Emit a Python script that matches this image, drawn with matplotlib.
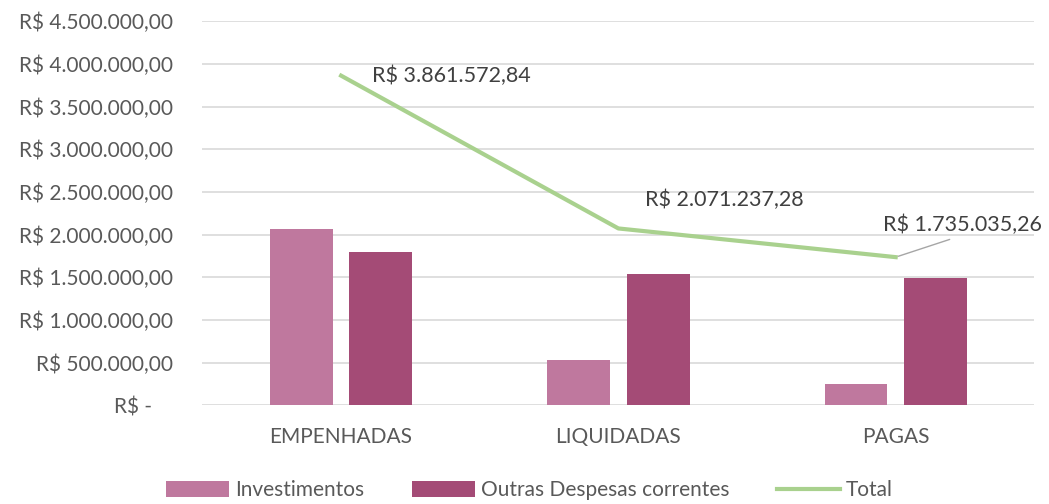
import matplotlib
matplotlib.use("Agg")
from matplotlib import pyplot as plt
import numpy as np

plt.rcParams['font.family'] = ['Lato', 'DejaVu Sans']

categorias = ["EMPENHADAS", "LIQUIDADAS", "PAGAS"]
investimentos = [2070000.00, 530000.00, 245000.00]
outras = [1791572.84, 1541237.28, 1490035.26]
total = [3861572.84, 2071237.28, 1735035.26]
rotulos_total = ["R$ 3.861.572,84", "R$ 2.071.237,28", "R$ 1.735.035,26"]
yticks = np.arange(0, 4500001, 500000)
ytick_labels = ["R$ -    ", "R$ 500.000,00", "R$ 1.000.000,00", "R$ 1.500.000,00",
                "R$ 2.000.000,00", "R$ 2.500.000,00", "R$ 3.000.000,00",
                "R$ 3.500.000,00", "R$ 4.000.000,00", "R$ 4.500.000,00"]

cor_inv = "#bf789e"
cor_out = "#a44b76"
cor_tot = "#a9d18e"
cinza = "#595959"

fig = plt.figure(figsize=(10.49, 5.04), dpi=100)
ax = fig.add_axes([0.193, 0.196, 0.793, 0.762])

x = np.arange(len(categorias))
w = 0.227
b1 = ax.bar(x - 0.143, investimentos, w, color=cor_inv, label="Investimentos", zorder=2)
b2 = ax.bar(x + 0.143, outras, w, color=cor_out, label="Outras Despesas correntes", zorder=2)
l1, = ax.plot(x, total, color=cor_tot, linewidth=3, label="Total", zorder=3)

# rotulos do total
offsets = [(31, 0), (27, 29), (-13, 32)]
for i in range(3):
    if i == 2:
        ax.annotate(rotulos_total[i], xy=(x[i], total[i]), xytext=offsets[i],
                    textcoords='offset pixels', ha='left', va='center',
                    fontsize=15.5, color="#404040",
                    arrowprops=dict(arrowstyle='-', color='#a6a6a6', lw=1,
                                    relpos=(0.5, 0), shrinkA=3, shrinkB=2))
    else:
        ax.annotate(rotulos_total[i], xy=(x[i], total[i]), xytext=offsets[i],
                    textcoords='offset pixels', ha='left', va='center',
                    fontsize=15.5, color="#404040")

ax.set_xlim(-0.5, 2.5)
ax.set_ylim(0, 4500000)
ax.set_yticks(yticks)
ax.set_yticklabels(ytick_labels, fontsize=15, color=cinza)
ax.set_xticks(x)
ax.set_xticklabels(categorias, fontsize=15, color=cinza)
ax.tick_params(length=0, axis='y', pad=21)
ax.tick_params(length=0, axis='x', pad=16)
ax.grid(axis='y', color='#d9d9d9', linewidth=1.2, zorder=0)
ax.set_axisbelow(True)
for s in ax.spines.values():
    s.set_visible(False)

fig.legend([b1, b2, l1], ["Investimentos", "Outras Despesas correntes", "Total"],
           loc='lower center', bbox_to_anchor=(0.505, -0.03), ncol=3, frameon=False,
           fontsize=15, labelcolor=cinza, handlelength=3.0, handleheight=0.85,
           columnspacing=2.3, handletextpad=0.3)

plt.savefig("out.png", dpi=100)
